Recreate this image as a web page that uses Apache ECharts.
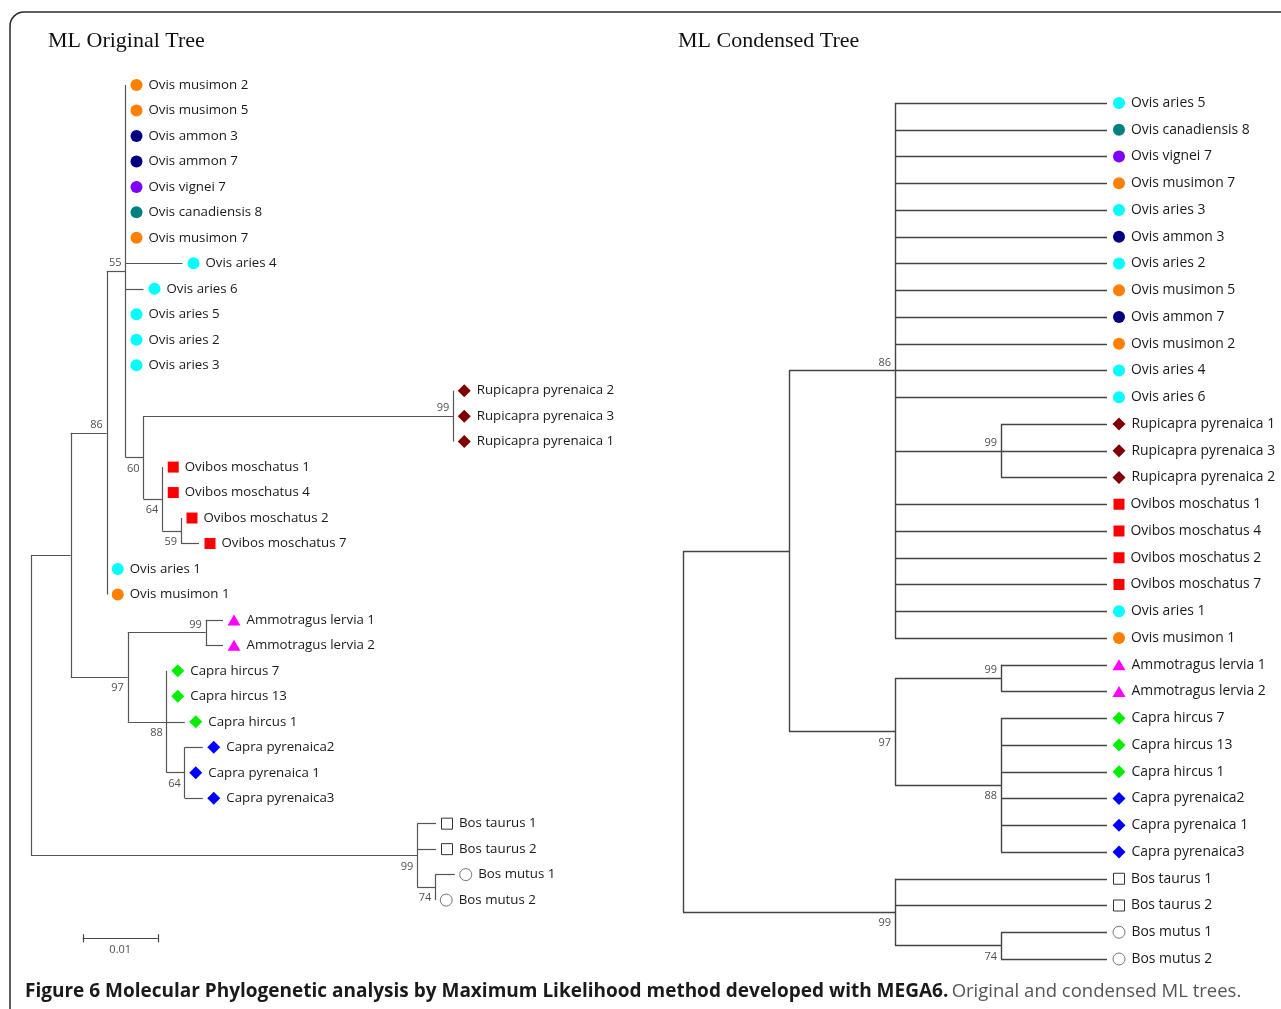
<!DOCTYPE html>
<html>
<head>
<meta charset="utf-8">
<title>ML trees</title>
<script src="https://cdn.jsdelivr.net/npm/echarts@6.0.0/dist/echarts.min.js"></script>
<style>
  html, body { margin: 0; padding: 0; background: #fff; }
  #chart { width: 1281px; height: 1009px; }
</style>
</head>
<body>
<div id="chart"></div>
<script>
// trees as newick, inner node labels = bootstrap
// original tree: branch lengths (substitutions / site)
const originalTree = '((((Ovis musimon 2:0,Ovis musimon 5:0,Ovis ammon 3:0,Ovis ammon 7:0,Ovis vignei 7:0,Ovis canadiensis 8:0,Ovis musimon 7:0,Ovis aries 4:0.0076,Ovis aries 6:0.0024,Ovis aries 5:0,Ovis aries 2:0,Ovis aries 3:0,((Rupicapra pyrenaica 2:0,Rupicapra pyrenaica 3:0,Rupicapra pyrenaica 1:0)99:0.0413,(Ovibos moschatus 1:0,Ovibos moschatus 4:0,(Ovibos moschatus 2:0,Ovibos moschatus 7:0.0024)59:0.0025)64:0.0025)60:0.0024)55:0.0025,Ovis aries 1:0,Ovis musimon 1:0)86:0.0048,((Ammotragus lervia 1:0.0023,Ammotragus lervia 2:0.0023)99:0.0104,(Capra hircus 7:0,Capra hircus 13:0,Capra hircus 1:0.0024,(Capra pyrenaica2:0.0024,Capra pyrenaica 1:0,Capra pyrenaica3:0.0024)64:0.0024)88:0.0052)97:0.0076):0.0053,(Bos taurus 1:0.0025,Bos taurus 2:0.0025,(Bos mutus 1:0.0026,Bos mutus 2:0)74:0.0024)99:0.0515);'
// condensed tree: topology only
const condensedTree = '(((Ovis aries 5,Ovis canadiensis 8,Ovis vignei 7,Ovis musimon 7,Ovis aries 3,Ovis ammon 3,Ovis aries 2,Ovis musimon 5,Ovis ammon 7,Ovis musimon 2,Ovis aries 4,Ovis aries 6,(Rupicapra pyrenaica 1,Rupicapra pyrenaica 3,Rupicapra pyrenaica 2)99,Ovibos moschatus 1,Ovibos moschatus 4,Ovibos moschatus 2,Ovibos moschatus 7,Ovis aries 1,Ovis musimon 1)86,((Ammotragus lervia 1,Ammotragus lervia 2)99,(Capra hircus 7,Capra hircus 13,Capra hircus 1,Capra pyrenaica2,Capra pyrenaica 1,Capra pyrenaica3)88)97),(Bos taurus 1,Bos taurus 2,(Bos mutus 1,Bos mutus 2)74)99);'

const scaleBar = [0.01]
const scaleLabel = ['0.01']
const titles = ['ML Original Tree', 'ML Condensed Tree']
const captionBold = 'Figure 6 Molecular Phylogenetic analysis by Maximum Likelihood method developed with MEGA6.'
const captionRest = 'Original and condensed ML trees.'

// species -> marker
const speciesMarks = [
  ['Ovis musimon', 'circle', '#ff8000'],
  ['Ovis ammon', 'circle', '#000080'],
  ['Ovis vignei', 'circle', '#8000ff'],
  ['Ovis canadiensis', 'circle', '#008080'],
  ['Ovis aries', 'circle', '#00ffff'],
  ['Rupicapra', 'diamond', '#800000'],
  ['Ovibos', 'rect', '#ff0000'],
  ['Ammotragus', 'triangle', '#ff00ff'],
  ['Capra hircus', 'diamond', '#00ee00'],
  ['Capra pyrenaica', 'diamond', '#0000ff'],
  ['Bos taurus', 'emptyRect', '#333'],
  ['Bos mutus', 'emptyCircle', '#777']
]

const labelFont = 'Open Sans'

function parseNewick (s) {
  let i = 0
  function node () {
    let n = { children: [], name: '', len: 0 }
    if (s[i] === '(') {
      i++
      n.children.push(node())
      while (s[i] === ',') { i++; n.children.push(node()) }
      i++
    }
    let t = ''
    while (i < s.length && ',):;'.indexOf(s[i]) < 0) t += s[i++]
    n.name = t.trim()
    if (s[i] === ':') {
      i++
      let l = ''
      while (i < s.length && ',);'.indexOf(s[i]) < 0) l += s[i++]
      n.len = parseFloat(l)
    }
    return n
  }
  return node()
}

// phylo: x = summed branch length; else x = levels from the tips (cladogram)
function layoutTree (root, phylo) {
  let k = 0
  let leaves = [], inner = [], edges = []
  function height (n) {
    return n.children.length ? 1 + Math.max.apply(null, n.children.map(height)) : 0
  }
  let H = height(root)
  function walk (n, px, parent, isLast) {
    n.x = phylo ? px + n.len : H - height(n)
    n.isLast = isLast
    if (!n.children.length) {
      n.y = k++
      leaves.push(n)
    } else {
      n.children.forEach((c, j) => walk(c, n.x, n, j === n.children.length - 1))
      let a = n.children[0], b = n.children[n.children.length - 1]
      n.y = (a.y + b.y) / 2
      edges.push([[n.x, a.y], [n.x, b.y]])
      if (parent && n.name) inner.push(n)
    }
    if (parent) edges.push([[parent.x, n.y], [n.x, n.y]])
  }
  walk(root, 0, null, false)
  return { leaves, inner, edges }
}

function markOf (name) {
  let m = speciesMarks.find(s => name.indexOf(s[0]) === 0)
  let sym = m[1], col = m[2]
  if (sym === 'emptyRect') return { symbol: 'rect', symbolSize: 11, itemStyle: { color: '#fff', borderColor: col, borderWidth: 1, opacity: 1 } }
  if (sym === 'emptyCircle') return { symbol: 'circle', symbolSize: 12, itemStyle: { color: '#fff', borderColor: col, borderWidth: 1, opacity: 1 } }
  let size = { circle: 12, rect: 11, diamond: 13, triangle: [13, 11] }[sym]
  return { symbol: sym, symbolSize: size, itemStyle: { color: col, opacity: 1 } }
}

function treeSeries (tree, idx, phylo, lineColor, lineWidth, offset, fontSize) {
  let t = layoutTree(parseNewick(tree), phylo)
  return [
    {
      type: 'lines',
      coordinateSystem: 'cartesian2d',
      xAxisIndex: idx,
      yAxisIndex: idx,
      clip: false,
      lineStyle: { color: lineColor, width: lineWidth, opacity: 1 },
      data: t.edges.map(e => ({ coords: e }))
    },
    {
      type: 'scatter',
      xAxisIndex: idx,
      yAxisIndex: idx,
      clip: false,
      symbolOffset: [offset, 0],
      itemStyle: { opacity: 1 },
      label: {
        show: true,
        position: 'right',
        distance: 6,
        formatter: '{b}',
        fontFamily: labelFont,
        fontSize: fontSize,
        color: '#1a1a1a'
      },
      data: t.leaves.map(n => Object.assign({ name: n.name, value: [n.x, n.y] }, markOf(n.name)))
    },
    {
      type: 'scatter',
      xAxisIndex: idx,
      yAxisIndex: idx,
      clip: false,
      symbolSize: 0,
      label: {
        show: true,
        position: 'left',
        distance: 4,
        formatter: '{b}',
        fontFamily: labelFont,
        fontSize: 11,
        color: '#222'
      },
      data: t.inner.map(n => ({
        name: n.name,
        value: [n.x, n.y],
        label: { offset: [0, n.isLast ? 11 : -8] }
      }))
    }
  ]
}

const hiddenAxis = { show: false, splitLine: { show: false } }
const yBar = 33.5, xBar = 0.0069, tick = 0.16
const titleStyle = { fontFamily: 'Liberation Serif', fontSize: 22, fontWeight: 'normal', color: '#111' }

let chart = echarts.init(document.getElementById('chart'))
chart.setOption({
  animation: false,
  backgroundColor: '#fff',
  title: [
    { text: titles[0], left: 48, top: 30, padding: 0, textStyle: titleStyle },
    { text: titles[1], left: 678, top: 30, padding: 0, textStyle: titleStyle }
  ],
  grid: [
    { left: 31, top: 85, width: 450, height: 891.5, outerBoundsMode: 'none' },
    { left: 683, top: 103, width: 424, height: 856, outerBoundsMode: 'none' }
  ],
  xAxis: [
    Object.assign({ type: 'value', gridIndex: 0, min: 0, max: 0.06 }, hiddenAxis),
    Object.assign({ type: 'value', gridIndex: 1, min: 0, max: 4 }, hiddenAxis)
  ],
  yAxis: [
    Object.assign({ type: 'value', gridIndex: 0, min: 0, max: 35, inverse: true }, hiddenAxis),
    Object.assign({ type: 'value', gridIndex: 1, min: 0, max: 32, inverse: true }, hiddenAxis)
  ],
  graphic: [
    {
      type: 'rect',
      shape: { x: 10, y: 12, width: 1300, height: 1020, r: 14 },
      style: { fill: 'none', stroke: '#2a2a2a', lineWidth: 1.5 },
      silent: true
    },
    {
      type: 'text',
      left: 25,
      top: 982,
      style: {
        text: '{b|' + captionBold + '} {r|' + captionRest + '}',
        rich: {
          b: { fontFamily: 'Open Sans', fontSize: 19, fontWeight: 'bold', fill: '#1a1a1a' },
          r: { fontFamily: 'Open Sans', fontSize: 18.5, fill: '#555' }
        }
      }
    }
  ],
  series: treeSeries(originalTree, 0, true, '#555', 1.2, 11, 13.3)
    .concat(treeSeries(condensedTree, 1, false, '#444', 1.4, 12, 13.9))
    .concat([
      {
        type: 'lines',
        coordinateSystem: 'cartesian2d',
        xAxisIndex: 0,
        yAxisIndex: 0,
        clip: false,
        lineStyle: { color: '#444', width: 1.2, opacity: 1 },
        data: [
          { coords: [[xBar, yBar], [xBar + scaleBar[0], yBar]] },
          { coords: [[xBar, yBar - tick], [xBar, yBar + tick]] },
          { coords: [[xBar + scaleBar[0], yBar - tick], [xBar + scaleBar[0], yBar + tick]] }
        ]
      },
      {
        type: 'scatter',
        xAxisIndex: 0,
        yAxisIndex: 0,
        clip: false,
        symbolSize: 0,
        label: { show: true, position: 'bottom', distance: 6, formatter: '{b}', fontFamily: labelFont, fontSize: 11, color: '#222' },
        data: [{ name: scaleLabel[0], value: [xBar + scaleBar[0] / 2, yBar] }]
      }
    ])
})
</script>
</body>
</html>
